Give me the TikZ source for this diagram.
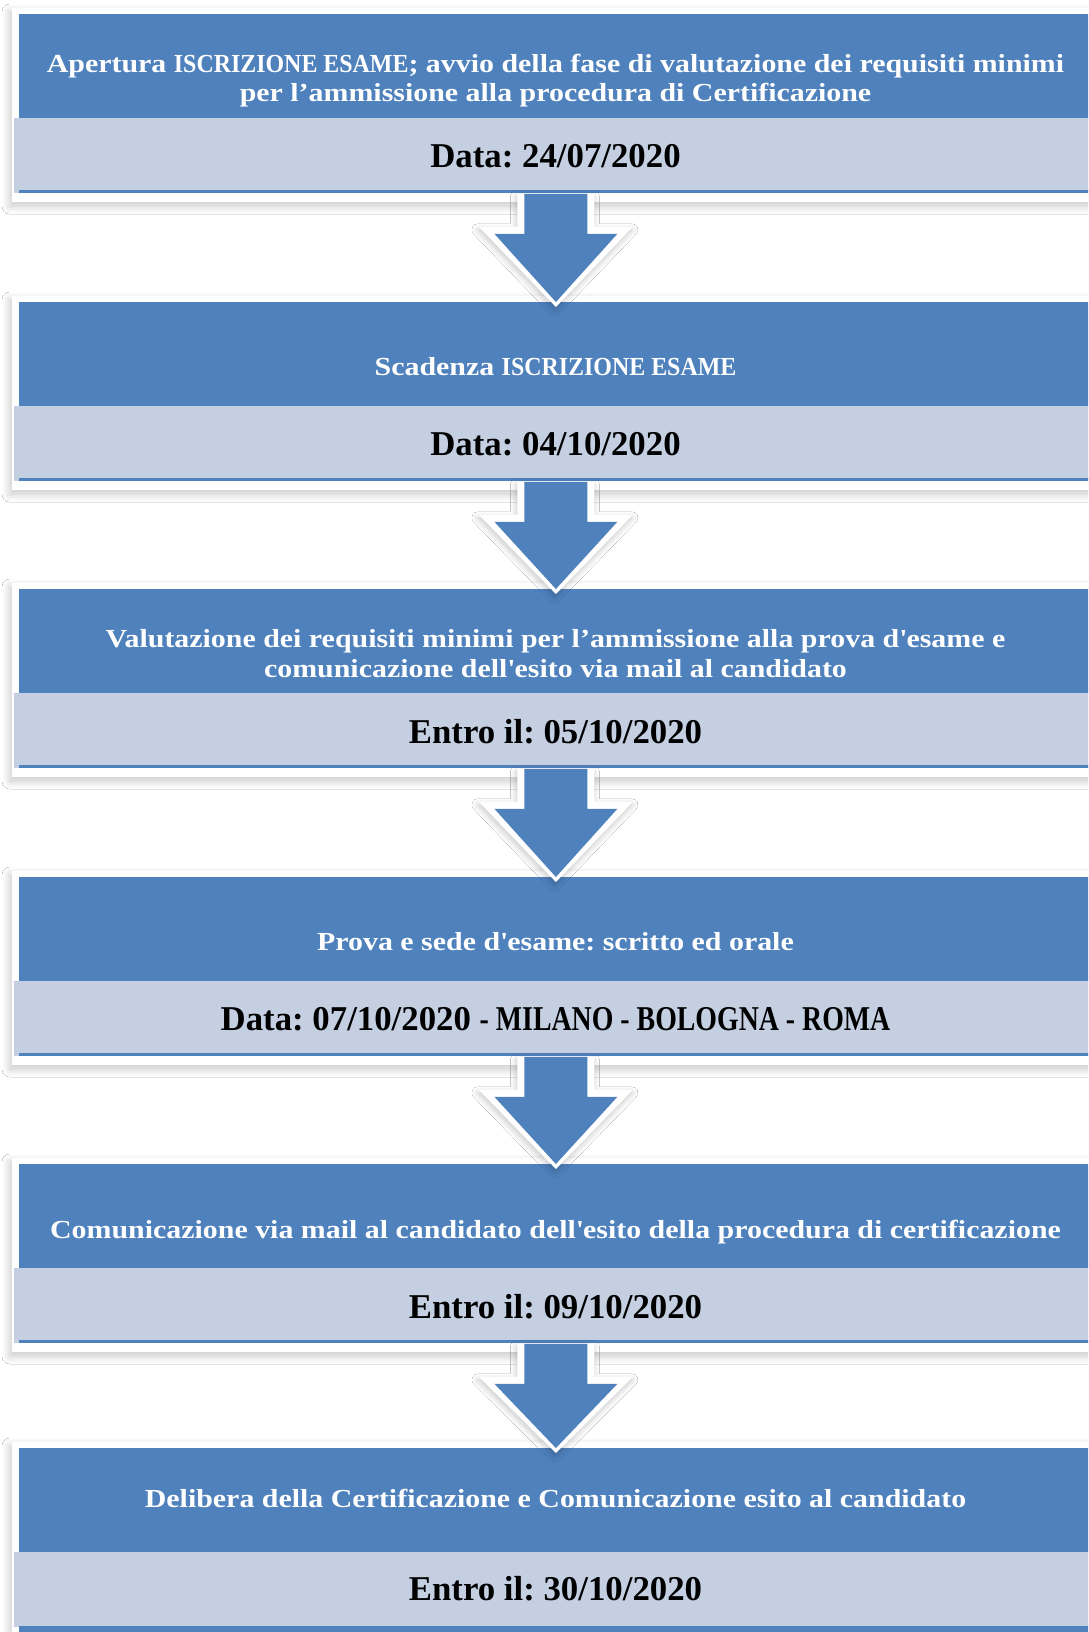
\documentclass[tikz,border=0pt]{standalone}
\usepackage{fontspec}
\setmainfont{Liberation Serif}
\newfontfamily\headfont{Liberation Serif}[FakeStretch=1.15]
\usetikzlibrary{calc, shadows.blur}

\definecolor{stepblue}{HTML}{4F81BD}
\definecolor{bandgrey}{HTML}{C4CFE2}
\newcommand{\sq}{\textquotesingle}
\newcommand{\narrowcaps}[1]{\scalebox{0.8}[1]{#1}}
\frenchspacing

\tikzset{
  frame/.style={fill=white, blur shadow={shadow xshift=-1pt, shadow yshift=-2pt, shadow blur radius=4pt, shadow blur steps=10, shadow opacity=22}},
  headbox/.style={fill=stepblue, anchor=north west, inner sep=0pt, minimum width=536.5pt, minimum height=52pt},
  datebox/.style={fill=bandgrey, anchor=north west, inner sep=0pt, minimum width=539pt, minimum height=37.5pt},
  headtxt/.style={text=white, anchor=base, align=center, inner sep=0pt, font=\headfont\bfseries\fontsize{13}{14.75}\selectfont},
  datetxt/.style={text=black, anchor=base, inner sep=0pt, font=\bfseries\fontsize{17.4}{20}\selectfont},
  halo/.style={fill=white, blur shadow={shadow xshift=-0.5pt, shadow yshift=-1.5pt, shadow blur radius=3pt, shadow blur steps=10, shadow opacity=22}},
}

\begin{document}
\begin{tikzpicture}[x=0.5pt, y=-0.5pt]
\clip (0,0) rectangle (1088,1632);
\fill[white] (0,0) rectangle (1088,1632);

% Step 1
\path[frame] (12,8) rectangle (1100,202);
\node[headbox] (h1) at (19,14) {};
\node[datebox] (d1) at (14,118) {};
\fill[stepblue] (19,190) rectangle (1092,193);
\node[headtxt] (ht1) at (555.5,102) {Apertura \narrowcaps{ISCRIZIONE ESAME}; avvio della fase di valutazione dei requisiti minimi\\per l’ammissione alla procedura di Certificazione};
\node[datetxt] (dt1) at (555.5,168) {Data: 24/07/2020};

% Step 2
\path[frame] (12,296) rectangle (1100,490);
\node[headbox] (h2) at (19,302) {};
\node[datebox] (d2) at (14,406) {};
\fill[stepblue] (19,478) rectangle (1092,481);
\node[headtxt] (ht2) at (555.5,375) {Scadenza \narrowcaps{ISCRIZIONE ESAME}};
\node[datetxt] (dt2) at (555.5,455) {Data: 04/10/2020};

% Step 3
\path[frame] (12,583) rectangle (1100,777);
\node[headbox] (h3) at (19,589) {};
\node[datebox] (d3) at (14,693) {};
\fill[stepblue] (19,765) rectangle (1092,768);
\node[headtxt] (ht3) at (555.5,677) {Valutazione dei requisiti minimi per l’ammissione alla prova d\sq esame e\\comunicazione dell\sq esito via mail al candidato};
\node[datetxt] (dt3) at (555.5,743) {Entro il: 05/10/2020};

% Step 4
\path[frame] (12,871) rectangle (1100,1065);
\node[headbox] (h4) at (19,877) {};
\node[datebox] (d4) at (14,981) {};
\fill[stepblue] (19,1053) rectangle (1092,1056);
\node[headtxt] (ht4) at (555.5,950) {Prova e sede d\sq esame: scritto ed orale};
\node[datetxt] (dt4) at (555.5,1030) {Data: 07/10/2020 \narrowcaps{- MILANO - BOLOGNA - ROMA}};

% Step 5
\path[frame] (12,1158) rectangle (1100,1352);
\node[headbox] (h5) at (19,1164) {};
\node[datebox] (d5) at (14,1268) {};
\fill[stepblue] (19,1340) rectangle (1092,1343);
\node[headtxt] (ht5) at (555.5,1238) {Comunicazione via mail al candidato dell\sq esito della procedura di certificazione};
\node[datetxt] (dt5) at (555.5,1318) {Entro il: 09/10/2020};

% Step 6
\path[frame] (12,1442) rectangle (1100,1640);
\node[headbox] (h6) at (19,1448) {};
\node[datebox] (d6) at (14,1552) {};
\fill[stepblue] (19,1626) rectangle (1092,1640);
\node[headtxt] (ht6) at (555.5,1507) {Delibera della Certificazione e Comunicazione esito al candidato};
\node[datetxt] (dt6) at (555.5,1600) {Entro il: 30/10/2020};

% block arrows between the steps
\foreach \a/\b in {1/2, 2/3, 3/4, 4/5, 5/6}{
  \coordinate (top) at (h\a.center |- d\a.south);
  \coordinate (tip) at (h\b.north);
  \path[halo] ($(top)+(-38.5,0)$) -- ($(top)+(-38.5,33)$) -- ($(top)+(-77,33)$) -- ($(tip)+(0,5)$)
    -- ($(top)+(77,33)$) -- ($(top)+(38.5,33)$) -- ($(top)+(38.5,0)$) -- cycle;
  \fill[stepblue] ($(top)+(-31.5,0)$) -- ($(top)+(-31.5,40)$) -- ($(top)+(-61.5,40)$) -- (tip)
    -- ($(top)+(61.5,40)$) -- ($(top)+(31.5,40)$) -- ($(top)+(31.5,0)$) -- cycle;
}
\end{tikzpicture}
\end{document}
